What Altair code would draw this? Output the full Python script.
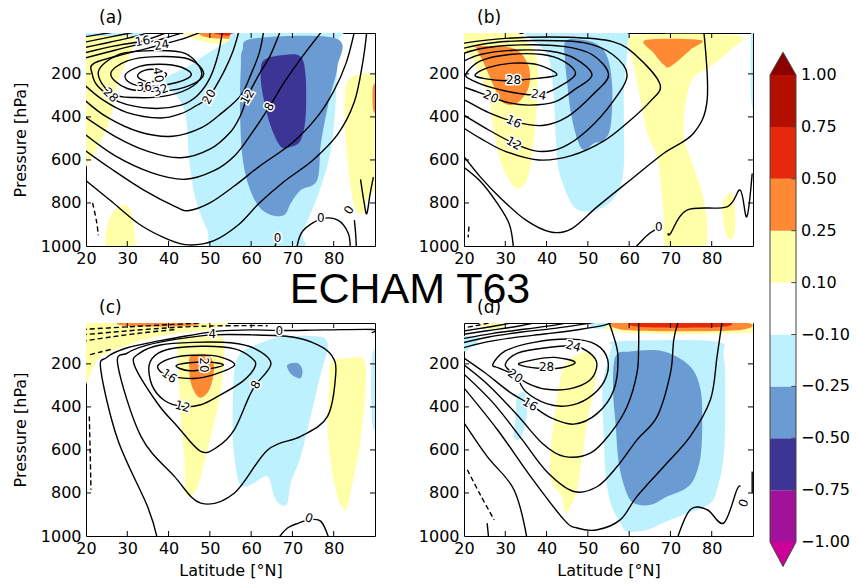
import altair as alt
import pandas as pd

# ---------------- values ----------------
XTICKS = [20, 30, 40, 50, 60, 70, 80]
YTICKS = [200, 400, 600, 800, 1000]
INNER_X = [30, 40, 50, 60, 70, 80]
INNER_Y = [200, 400, 600, 800]

LEVEL_CODES = ["m", "d", "b", "c", "w", "y", "o", "r", "dr"]
LEVEL_COLORS = ["#a1129b", "#3c3596", "#6b9bd3", "#bef1fe", "#ffffff",
                "#ffffa8", "#ff8a33", "#e6290a", "#b30e00"]
TRI_CODES = ["tmin", "tmax"]
TRI_COLORS = ["#cc0099", "#8c0000"]
CB_LABELS = ["\u22121.00", "\u22120.75", "\u22120.50", "\u22120.25", "\u22120.10",
             "0.10", "0.25", "0.50", "0.75", "1.00"]
FILL_ORDER = ["y", "o", "r", "c", "b", "d"]

# ---- panel (a) ----
A_FILLS = [
    ("c", [(19, 5), (33, 5), (33, 22), (19, 22)]),
    ("y", [(19, 22), (31.7, 22), (31.7, 58), (30.1, 136), (28.1, 213), (26.9, 322), (25.2, 446),
           (22.8, 539), (20.8, 600), (19, 610)]),
    ("y", [(25.2, 1015), (25.1, 910), (26.9, 833), (29.7, 810), (31.3, 864), (31.7, 942), (31.5, 1015)]),
    ("y", [(82.9, 260), (84.9, 210), (88.5, 200), (91, 229), (91, 663), (88.1, 787), (86.9, 849),
           (85.1, 825), (83.7, 663), (82.7, 446)]),
    ("y", [(44, 5), (57, 5), (55, 60), (50, 55), (46, 35)]),
    ("o", [(49.4, 5), (72, 5), (71, 35), (60, 38), (50, 32)]),
    ("r", [(52, 5), (70, 5), (69, 24), (55, 24)]),
    ("o", [(89.5, 260), (91, 255), (91, 370), (89.6, 370)]),
    ("c", [(39.0, 229), (44.6, 167), (49.4, 105), (54.3, 50), (57.5, 5), (80.5, 5), (81.0, 58),
           (80.5, 322), (79.3, 554), (76.9, 725), (74.4, 849), (72.4, 942), (71.6, 1015), (51.9, 1015),
           (49.4, 926), (46.6, 787), (45, 600), (44.2, 399), (42.2, 306)]),
    ("b", [(57.9, 89), (60.7, 35), (80.5, 35), (80.9, 167), (78.9, 322), (76.9, 523), (76.0, 694),
           (72, 740), (69.6, 802), (68, 856), (64.8, 856), (61.9, 818), (59.5, 725), (57.9, 585),
           (57.3, 368), (57.5, 167)]),
    ("d", [(63.1, 136), (68, 112), (72, 120), (73.2, 213), (73.2, 399), (72, 508), (69.6, 539),
           (67.2, 539), (64.8, 446), (63.1, 322), (62.3, 213)]),
]
A_LINES = [
    (40, True, [(32.5, 210), (34, 185), (37, 180), (39.5, 200), (38, 228), (34.5, 235)]),
    (36, True, [(29.5, 205), (33, 165), (38, 155), (43, 168), (45.5, 205), (42, 240), (36, 258), (31, 245)]),
    (32, True, [(26, 200), (30, 140), (37, 120), (45, 132), (48.5, 200), (45, 255), (38.5, 280), (30, 268)]),
    (28, True, [(23, 190), (28, 110), (36, 92), (44, 105), (48, 190), (46, 255), (40, 300), (32, 310), (26, 290)]),
    (24, False, [(48, 5), (43, 40), (38, 66), (30, 105), (22, 150), (21.5, 200), (23, 260), (28, 330),
                 (36, 360), (43, 345), (47, 300), (50, 220), (52, 110), (53, 5)]),
    (20, False, [(44, 5), (38, 40), (33, 62), (27, 90), (19, 130)]),
    (20, False, [(19, 240), (24, 320), (30, 380), (38, 405), (43, 385), (46.5, 350), (49.8, 306),
                 (53.5, 186), (55.5, 100), (57, 5)]),
    (16, False, [(40, 5), (33.7, 47), (27, 70), (19, 105)]),
    (16, False, [(19, 310), (25, 400), (33, 470), (41, 490), (48, 450), (53, 380), (57.5, 300),
                 (60, 200), (62, 100), (63, 5)]),
    (12, False, [(36, 5), (30, 35), (24, 60), (19, 80)]),
    (12, False, [(19, 390), (27, 490), (35, 560), (43, 590), (50, 550), (55, 470), (57.5, 390),
                 (59.1, 306), (62, 200), (64.5, 120), (67, 5)]),
    (8, False, [(32, 5), (26, 28), (19, 55)]),
    (8, False, [(19, 470), (27, 580), (36, 660), (44, 690), (51, 650), (56, 580), (60, 480),
                (64.4, 353), (68, 240), (72, 130), (77, 5)]),
    (4, False, [(27, 5), (19, 30)]),
    (4, False, [(19, 545), (26, 640), (34, 740), (42, 820), (45, 835), (50, 800), (56, 720), (62, 630),
                (70, 520), (76, 400), (80, 280), (83, 150), (85, 5)]),
    (0, False, [(19, 680), (26, 790), (33, 900), (40, 970), (45, 995), (51, 975), (57, 900), (62, 800),
                (68, 700), (75, 600), (81, 480), (85, 330), (87, 150), (88, 5)]),
    (0, False, [(71, 1015), (72.5, 930), (76.9, 875), (81, 880), (83.5, 940), (84, 1015)]),
    (0, False, [(65.5, 1015), (66.2, 980), (67, 940)]),
    (0, False, [(85.5, 1015), (85.3, 940), (85, 880)]),
    (0, False, [(86.5, 690), (87.3, 790), (88, 850), (88.8, 760), (89.6, 680)]),
    (-4, False, [(21.6, 800), (22.5, 880), (23, 950)]),
]
A_LABELS = [("16", 33.7, 47, 350), ("24", 38.3, 66, 350), ("40", 37.5, 205, 80), ("36", 34.1, 263, 0),
            ("32", 38.1, 275, 340), ("28", 26, 298, 45), ("20", 49.8, 306, 300), ("12", 59.1, 306, 300),
            ("8", 64.4, 353, 300), ("0", 76.9, 872, 0), ("0", 83.7, 833, 300), ("0", 66.4, 965, 0)]

# ---- panel (b) ----
B_FILLS = [
    ("y", [(19, 5), (32.1, 5), (35.3, 57), (37.7, 134), (37.7, 320), (36.9, 506), (35.7, 661), (34.2, 723),
           (32.1, 723), (29.3, 630), (27.3, 475), (26.1, 320), (24, 212), (21.6, 119), (19, 89)]),
    ("o", [(23.2, 73), (28.1, 73), (32.9, 89), (35.7, 167), (35.7, 260), (33.7, 322), (31.3, 345),
           (28.9, 322), (27.3, 260), (24.8, 151), (23.2, 89)]),
    ("y", [(60.3, 22), (86.1, 22), (84.5, 88), (79.7, 166), (74.8, 243), (73.2, 476), (75.6, 631),
           (78.1, 785), (78.9, 940), (77.7, 1015), (69.2, 1015), (68.4, 863), (67.6, 708), (66.8, 584),
           (64.4, 476), (62, 243), (60.3, 88)]),
    ("o", [(64, 43), (77.3, 43), (74.8, 89), (70, 166), (68.4, 158), (66, 104)]),
    ("y", [(82.9, 787), (84.9, 756), (85.7, 864), (85.3, 957), (83.7, 957), (82.7, 864)]),
    ("c", [(36.1, 5), (58, 5), (59.6, 60), (59, 200), (58.7, 321), (58.7, 631), (57.1, 755), (53.9, 817),
           (49.8, 840), (46.6, 817), (44.2, 724), (42.6, 600), (41.8, 321), (41, 166), (39.4, 88), (36.1, 33)]),
    ("c", [(89.6, 5), (91, 5), (91, 330), (89.6, 330)]),
    ("b", [(44.6, 47), (48, 40), (52, 60), (54.7, 120), (55.9, 259), (55.5, 445), (53.9, 507), (51.5, 522),
           (49.1, 553), (47.5, 507), (45.9, 383), (45, 243), (44.4, 119)]),
]
B_LINES = [
    (28, True, [(22.7, 205), (26, 170), (32, 150), (38, 158), (42.5, 204), (37, 222), (30, 232), (25, 222)]),
    (24, True, [(20.5, 200), (24, 140), (31, 110), (39, 110), (44, 140), (47, 200), (43, 260), (38.1, 297),
                (33, 290), (27, 265), (22, 230)]),
    (20, False, [(19, 150), (24, 110), (32, 90), (41, 95), (47, 130), (51, 205), (47, 270), (42, 330),
                 (36, 345), (31, 335), (26.5, 306), (22, 275), (19, 255)]),
    (16, False, [(19, 110), (25, 80), (34, 65), (44, 72), (51, 110), (55, 205), (51, 300), (45, 400),
                 (39, 440), (32.1, 422), (26, 380), (21, 330), (19, 310)]),
    (12, False, [(19, 85), (27, 55), (38, 45), (49, 55), (56, 110), (59.5, 205), (56, 330), (50, 460),
                 (44, 540), (38, 560), (32.1, 523), (25, 450), (19, 380)]),
    (8, False, [(19, 60), (30, 35), (45, 30), (56, 50), (62, 120), (67.5, 250), (65, 330), (60, 420),
                (54, 510), (46, 580), (38, 600), (30, 560), (24, 500), (19, 440)]),
    (4, False, [(78.1, 5), (78.9, 321), (75.6, 476), (68.4, 569), (60.3, 693), (52.3, 817), (46, 920),
                (41, 935), (35, 880), (29, 780), (24, 680), (19, 560)]),
    (0, False, [(19, 620), (24, 700), (28, 800), (31, 900), (32, 1015)]),
    (0, False, [(61.1, 1015), (64.4, 950), (66.3, 925)]),
    (0, False, [(69.5, 940), (70, 942), (74, 833), (83.7, 818), (86.9, 740), (88.5, 864), (89.8, 663)]),
    (-4, False, [(21.2, 910), (21.0, 960)]),
]
B_LABELS = [("28", 32, 227, 0), ("24", 38.1, 297, 10), ("20", 26.5, 306, 25), ("16", 32.1, 422, 25),
            ("12", 32.1, 523, 30), ("0", 67.2, 910, 0)]

# ---- panel (c) ----
C_FILLS = [
    ("y", [(19, 5), (52.3, 5), (49.8, 41), (39.8, 64), (31.7, 103), (23.6, 165), (21.2, 243), (19, 305)]),
    ("o", [(29, 5), (46, 5), (45, 24), (30, 24)]),
    ("y", [(42.6, 88), (47.8, 72), (52.7, 72), (53.5, 165), (52.7, 320), (51, 475), (49.4, 599),
           (47.8, 723), (46.2, 801), (44.2, 801), (43.8, 630), (43, 475), (42.6, 320), (42.2, 165)]),
    ("o", [(45.4, 165), (49.4, 158), (51, 212), (50.2, 305), (48.6, 351), (47, 351), (45.4, 289), (45, 212)]),
    ("y", [(79.3, 196), (83.3, 173), (87.3, 181), (87.7, 320), (86.5, 553), (84.9, 723), (83.3, 863),
           (82.5, 878), (80.9, 816), (79.3, 661), (78.5, 475), (78.9, 320)]),
    ("c", [(57.5, 150), (55.9, 243), (55.5, 475), (55.9, 630), (57.1, 754), (58.7, 770), (60.7, 754),
           (64, 723), (65.6, 816), (67.2, 855), (68.8, 847), (69.6, 754), (72, 630), (74.4, 444),
           (76.9, 243), (78.5, 134), (78.1, 88), (76, 72), (68, 72), (62.3, 103)]),
    ("c", [(89.3, 165), (91, 165), (91, 475), (89.3, 475)]),
    ("b", [(68.8, 204), (71.2, 196), (72.4, 227), (72, 266), (70.4, 258), (69.2, 235)]),
]
C_LINES = [
    (20, True, [(41.8, 210), (45, 195), (50, 192), (53.3, 205), (50, 222), (45, 232)]),
    (16, True, [(37.5, 205), (41, 172), (46, 160), (52, 165), (56, 205), (51, 250), (46, 268), (40.2, 256), (38, 235)]),
    (12, True, [(35.3, 205), (37.5, 150), (42, 125), (49, 118), (56, 130), (60, 170), (61, 210), (58, 280),
                (52, 350), (47.8, 390), (43.4, 398), (39, 370), (36, 300)]),
    (8, True, [(31.7, 205), (33, 150), (38, 112), (46, 100), (55, 102), (61, 130), (64.8, 199), (61.1, 297),
               (59.5, 352), (55.9, 507), (51.9, 585), (47.8, 607), (42.2, 492), (37.3, 383)]),
    (4, True, [(27.7, 205), (30, 150), (35, 112), (42, 85), (50.6, 65), (60, 65), (70, 75), (76, 110),
               (79.5, 160), (80.5, 243), (78.5, 444), (72, 537), (64, 600), (55.9, 801), (47.8, 847),
               (41.4, 723), (33.3, 537)]),
    (0, False, [(37.3, 1015), (34.9, 863), (27.7, 553), (23.6, 230), (25, 170), (30, 125), (38, 92),
                (45, 68), (52, 48), (60, 42), (66.8, 45), (78, 42), (89.5, 40), (89.2, 55)]),
    (0, False, [(66.4, 1015), (68.8, 963), (71.5, 940), (74, 925), (76.9, 932), (78.9, 1015)]),
    (-4, False, [(19, 40), (30, 28), (40, 18), (48, 10)]),
    (-4, False, [(19, 65), (28, 50), (38, 35), (48, 25), (60, 22), (64, 23)]),
    (-4, False, [(19, 95), (26, 75), (34, 55), (42, 40)]),
    (-4, False, [(21, 157), (23.5, 145), (26, 133)]),
    (-4, False, [(20.8, 444), (21, 600), (21.2, 785)]),
]
C_LABELS = [("20", 48.6, 205, 90), ("16", 40.2, 256, 35), ("12", 43.4, 398, 15), ("8", 61.1, 297, 300),
            ("4", 50.6, 62, 0), ("0", 66.8, 45, 0), ("0", 74, 917, 20)]

# ---- panel (d) ----
D_FILLS = [
    ("y", [(24, 5), (30.5, 5), (28, 41), (25, 30)]),
    ("y", [(53.9, 5), (91, 5), (91, 40), (89.4, 57), (60, 57)]),
    ("o", [(57.9, 5), (86.9, 5), (86, 44), (60, 44)]),
    ("r", [(61.9, 5), (82.9, 5), (82, 29), (63, 29)]),
    ("y", [(44.2, 212), (47.4, 157), (50.6, 150), (51.9, 212), (51.5, 320), (49.8, 475), (48.6, 630),
           (47.4, 785), (45.8, 863), (44.5, 894), (43.7, 816), (41.3, 754), (40.9, 630), (41.7, 475), (42.9, 320)]),
    ("c", [(57.1, 95), (80.5, 95), (82.9, 165), (83.3, 398), (82.9, 630), (81.3, 785), (79.7, 847),
           (76.5, 878), (70, 925), (64.4, 971), (59.5, 979), (57.9, 940), (55.5, 847), (54.3, 708),
           (53.9, 553), (53.5, 320), (54.7, 196), (55.9, 119)]),
    ("c", [(32.9, 351), (34.9, 336), (35.3, 414), (34.5, 506), (33.3, 553), (32.1, 537), (32.5, 444)]),
    ("c", [(19, 75), (23.5, 80), (22, 120), (19, 145)]),
    ("c", [(50.6, 5), (54.7, 5), (54, 33), (51, 33)]),
    ("b", [(56.7, 165), (60.3, 142), (68.4, 142), (74.8, 212), (77.3, 320), (77.7, 475), (77.3, 630),
           (75.6, 739), (73.2, 785), (69.2, 816), (65.2, 855), (61.1, 847), (59.1, 785), (57.5, 661),
           (56.7, 475), (56.1, 320)]),
]
D_LINES = [
    (28, True, [(33.2, 202), (37, 180), (42, 170), (46.9, 192), (43.7, 218), (38, 220)]),
    (24, True, [(30, 202), (33, 150), (40, 125), (46.5, 117), (50.5, 150), (52.2, 202), (50.6, 274),
                (45.8, 315), (40, 318), (35.3, 289), (32, 245)]),
    (20, True, [(27, 202), (30, 140), (37, 100), (46, 85), (52, 110), (54.8, 180), (54, 280), (50, 360),
                (45, 395), (40, 385), (35, 330), (32.4, 256), (28.5, 220)]),
    (16, False, [(19, 160), (25, 240), (31, 330), (36, 388), (41, 450), (46.6, 480), (52.3, 430),
                 (56.3, 320), (57.3, 165), (56, 57), (55, 5)]),
    (12, False, [(19, 190), (26, 300), (33, 440), (39, 570), (44.2, 630), (50.6, 615), (55.5, 522),
                 (59.5, 398), (61.9, 243), (62.3, 120), (62.3, 5)]),
    (8, False, [(19, 230), (27, 380), (34, 550), (40, 700), (46.6, 793), (52.3, 770), (57.1, 677),
                (61.9, 553), (66.8, 444), (70, 243), (70.8, 88), (71.9, 5)]),
    (4, False, [(19, 289), (28.1, 506), (36.1, 723), (44.2, 924), (47.4, 963), (52.3, 971), (57.9, 924),
                (61.9, 816), (68.4, 677), (74.8, 537), (79.7, 366), (81.3, 165), (82.5, 5)]),
    (16, False, [(19, 130), (25, 100), (32, 78), (40, 60), (48, 40), (54, 20), (56, 5)]),
    (12, False, [(19, 105), (26, 75), (34, 52), (42, 35), (49, 15), (52, 5)]),
    (8, False, [(19, 85), (27, 58), (35, 38), (42, 20), (46, 5)]),
    (4, False, [(19, 65), (26, 45), (33, 25), (38, 5)]),
    (0, False, [(19, 50), (25, 32), (30, 15), (33, 5)]),
    (0, False, [(19, 444), (25.6, 630), (32.1, 785), (35.3, 1015)]),
    (0, False, [(71.6, 1015), (74.8, 878), (78.9, 878), (82.9, 940), (86.1, 785), (86.9, 770)]),
    (0, False, [(89.8, 700), (89.8, 800)]),
    (0, False, [(25.6, 940), (26, 1015)]),
    (-4, False, [(19, 35), (23, 22), (26, 10)]),
    (-4, False, [(20.8, 692), (24, 810), (27.3, 925)]),
]
D_LABELS = [("28", 40, 213, 0), ("24", 46.5, 117, 15), ("20", 32.4, 256, 35), ("16", 36, 388, 30),
            ("0", 87.7, 847, 290)]

# ---------------- layout constants ----------------
W, H = 289, 213
CB_LEFT, CB_WIDTH = 306, 26          # colour bar position relative to panel (b)
CB_STEP, CB_TOP_LEVEL_PX = 51.9, 42  # px per level, px from view top to the 1.00 boundary

ALL_CODES = LEVEL_CODES + TRI_CODES
ALL_COLORS = LEVEL_COLORS + TRI_COLORS
FILL_SCALE = alt.Scale(domain=ALL_CODES, range=ALL_COLORS)
FONT = "DejaVu Sans"


def fills_df(fills):
    rows = []
    for i, (code, pts) in enumerate(fills):
        for j, (la, pp) in enumerate(pts):
            rows.append(dict(pid=i, bin=code, idx=j, lat=la, p=pp))
    return pd.DataFrame(rows)


def lines_df(lines):
    rows = []
    for i, (lev, closed, pts) in enumerate(lines):
        for j, (la, pp) in enumerate(pts):
            rows.append(dict(lid=i, level=lev, closed=closed, neg=lev < 0, idx=j, lat=la, p=pp))
    return pd.DataFrame(rows)


def panel_layers(fills, lines, labels, xtitle, ytitle):
    X = alt.X("lat:Q", scale=alt.Scale(domain=[20, 90], nice=False, zero=False),
              axis=alt.Axis(values=XTICKS, title=xtitle, labelPadding=4, titlePadding=6,
                            labelFlush=False, format="d"))
    Y = alt.Y("p:Q", scale=alt.Scale(domain=[10, 1000], reverse=True, nice=False, zero=False),
              axis=alt.Axis(values=YTICKS, title=ytitle, labelPadding=5, titlePadding=12,
                            labelFlush=False, format="d"))
    layers = []
    fd = fills_df(fills)
    for code in FILL_ORDER:
        sub = fd[fd["bin"] == code]
        if len(sub) == 0:
            continue
        layers.append(
            alt.Chart(sub).mark_line(interpolate="cardinal-closed", strokeWidth=0, clip=True).encode(
                x=X, y=Y, order="idx:Q", detail="pid:N",
                fill=alt.Fill("bin:N", scale=FILL_SCALE, legend=None)))
    ld = lines_df(lines)
    specs = [
        (ld[(~ld["closed"]) & (~ld["neg"])], "cardinal", None),
        (ld[(ld["closed"]) & (~ld["neg"])], "cardinal-closed", None),
        (ld[ld["neg"]], "cardinal", [5, 3]),
    ]
    for sub, interp, dash in specs:
        if len(sub) == 0:
            continue
        kw = dict(interpolate=interp, color="black", strokeWidth=1.4, clip=True)
        if dash:
            kw["strokeDash"] = dash
        layers.append(alt.Chart(sub).mark_line(**kw).encode(x=X, y=Y, order="idx:Q", detail="lid:N"))
    lab = pd.DataFrame(labels, columns=["t", "lat", "p", "ang"])
    layers.append(alt.Chart(lab).mark_text(font=FONT, fontSize=12, color="white", stroke="white",
                                           strokeWidth=3).encode(
        x=X, y=Y, text="t:N", angle=alt.Angle("ang:Q", scale=None)))
    layers.append(alt.Chart(lab).mark_text(font=FONT, fontSize=12, color="black").encode(
        x=X, y=Y, text="t:N", angle=alt.Angle("ang:Q", scale=None)))
    # inward ticks on all four sides
    tx = pd.DataFrame({"lat": INNER_X})
    ty = pd.DataFrame({"p": INNER_Y})
    layers.append(alt.Chart(tx).mark_rule(color="black").encode(x=X, y=alt.value(0), y2=alt.value(5)))
    layers.append(alt.Chart(tx).mark_rule(color="black").encode(x=X, y=alt.value(H - 5), y2=alt.value(H)))
    layers.append(alt.Chart(ty).mark_rule(color="black").encode(y=Y, x=alt.value(0), x2=alt.value(5)))
    layers.append(alt.Chart(ty).mark_rule(color="black").encode(y=Y, x=alt.value(W - 5), x2=alt.value(W)))
    return layers


def ptitle(t):
    return alt.TitleParams(t, anchor="start", frame="group", dx=13, offset=6, fontSize=17, font=FONT,
                           fontWeight="normal", color="black")


# ---------------- colour bar (layered into panel b, own scales) ----------------
CBX = alt.Scale(domain=[-CB_LEFT / CB_WIDTH, (W - CB_LEFT) / CB_WIDTH], nice=False, zero=False)
cb_top = 9 + CB_TOP_LEVEL_PX / CB_STEP
CBY = alt.Scale(domain=[cb_top - H / CB_STEP, cb_top], nice=False, zero=False)

cb_rect = pd.DataFrame({"k0": list(range(9)), "k1": list(range(1, 10)), "code": LEVEL_CODES,
                        "x0": [0] * 9, "x1": [1] * 9})
tri_rows = []
for code, pts in [("tmin", [(0, 0), (0.5, -0.47), (1, 0)]), ("tmax", [(0, 9), (0.5, 9.44), (1, 9)])]:
    for j, (a, b) in enumerate(pts):
        tri_rows.append(dict(code=code, idx=j, cx=a, ck=b))
cb_tri = pd.DataFrame(tri_rows)
outline_pts = [(0, 0), (0.5, -0.47), (1, 0), (1, 9), (0.5, 9.44), (0, 9), (0, 0)]
cb_out = pd.DataFrame([dict(idx=j, cx=a, ck=b) for j, (a, b) in enumerate(outline_pts)])
cb_lab = pd.DataFrame({"k": list(range(10)), "t": CB_LABELS, "cx": [1 + 5 / CB_WIDTH] * 10})
cb_tick = pd.DataFrame({"k": list(range(1, 9)), "a": [0.82] * 8, "b": [1.0] * 8})

cb_layers = [
    alt.Chart(cb_rect).mark_rect().encode(
        x=alt.X("x0:Q", scale=CBX, axis=None), x2="x1:Q",
        y=alt.Y("k0:Q", scale=CBY, axis=None), y2="k1:Q",
        fill=alt.Fill("code:N", scale=FILL_SCALE, legend=None)),
    alt.Chart(cb_tri).mark_line(interpolate="linear-closed", strokeWidth=0).encode(
        x=alt.X("cx:Q", scale=CBX, axis=None), y=alt.Y("ck:Q", scale=CBY, axis=None),
        order="idx:Q", detail="code:N", fill=alt.Fill("code:N", scale=FILL_SCALE, legend=None)),
    alt.Chart(cb_tick).mark_rule(color="#444").encode(
        x=alt.X("a:Q", scale=CBX, axis=None), x2="b:Q", y=alt.Y("k:Q", scale=CBY, axis=None)),
    alt.Chart(cb_out).mark_line(color="#444", strokeWidth=1).encode(
        x=alt.X("cx:Q", scale=CBX, axis=None), y=alt.Y("ck:Q", scale=CBY, axis=None), order="idx:Q"),
    alt.Chart(cb_lab).mark_text(align="left", baseline="middle", font=FONT, fontSize=16, color="black").encode(
        x=alt.X("cx:Q", scale=CBX, axis=None), y=alt.Y("k:Q", scale=CBY, axis=None), text="t:N"),
]

# big figure label, placed below panel (b) so it does not move any panel title
big = alt.Chart(pd.DataFrame({"t": ["ECHAM T63"]})).mark_text(
    font="Liberation Sans", fontSize=43, align="center", baseline="alphabetic", color="black").encode(
    text="t:N", x=alt.value(-54), y=alt.value(270))

# ---------------- panels ----------------
pa = alt.layer(*panel_layers(A_FILLS, A_LINES, A_LABELS, None, "Pressure [hPa]")).properties(
    width=W, height=H, title=ptitle("(a)"))
pb = alt.layer(
    alt.layer(*panel_layers(B_FILLS, B_LINES, B_LABELS, None, None)),
    alt.layer(*cb_layers),
    big,
).resolve_scale(x="independent", y="independent").properties(width=W, height=H, title=ptitle("(b)"))
pc = alt.layer(*panel_layers(C_FILLS, C_LINES, C_LABELS, "Latitude [°N]", "Pressure [hPa]")).properties(
    width=W, height=H, title=ptitle("(c)"))
pd_ = alt.layer(*panel_layers(D_FILLS, D_LINES, D_LABELS, "Latitude [°N]", None)).properties(
    width=W, height=H, title=ptitle("(d)"))

chart = alt.concat(pa, pb, pc, pd_, columns=2, spacing={"row": 77, "column": 89}, bounds="flush").properties(
    padding={"left": 11, "top": 8, "right": 5, "bottom": 5}, background="white"
).configure_view(stroke="black", strokeWidth=1).configure_axis(
    grid=False, ticks=False, domain=False, labelFont=FONT, labelFontSize=16, labelColor="black",
    titleFont=FONT, titleFontSize=16, titleFontWeight="normal", titleColor="black")

chart.save("out.html", embed_options={"renderer": "svg", "actions": False})
